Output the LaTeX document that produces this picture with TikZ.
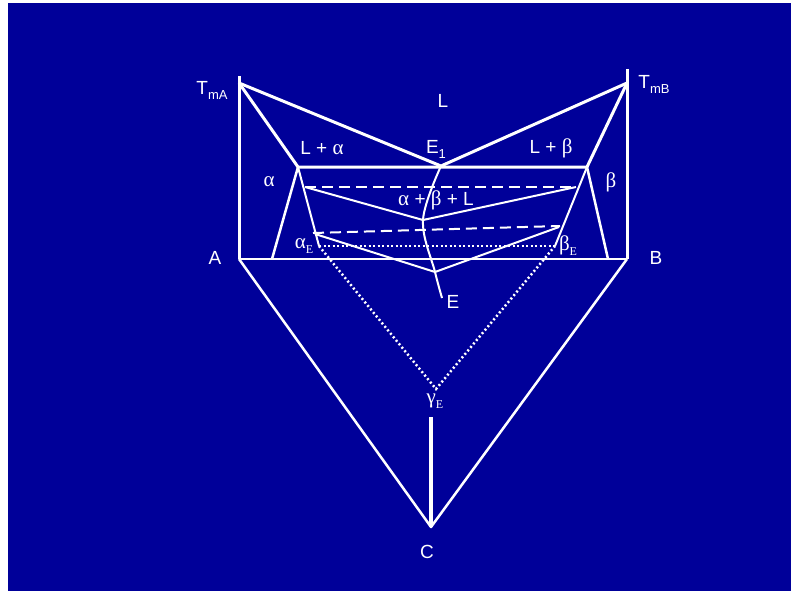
\documentclass[tikz,border=0pt]{standalone}
\usepackage{fontspec}
\setmainfont{Liberation Sans}
\newfontfamily\grkfont{Liberation Serif}
\newcommand{\mygk}[1]{{\grkfont\fontsize{21}{22}\selectfont #1}}
\newcommand{\mysbE}{\raisebox{-5pt}{\grkfont\fontsize{12}{12}\selectfont E}}
\newcommand{\mysub}[1]{\raisebox{-5pt}{\fontsize{13}{13}\selectfont #1}}
\begin{document}
\begin{tikzpicture}[x=1pt,y=-1pt]
\tikzset{
 thk/.style={white, line width=3pt, line join=round},
 mid/.style={white, line width=2.5pt, line join=round},
 thn/.style={white, line width=2pt, line join=round},
 dsh/.style={white, line width=2pt, dash pattern=on 11pt off 6pt},
 dtt/.style={white, line width=2.5pt, dash pattern=on 2pt off 2.5pt},
 lbl/.style={text=white, inner sep=0pt, font=\fontsize{19}{22}\selectfont},
}
\definecolor{bg}{RGB}{0,0,153}
\useasboundingbox (0,0) rectangle (791,591);
\fill[white] (0,0) rectangle (791,591);
\fill[bg] (8,3) rectangle (791,591);
% points
\coordinate (TopA) at (239,76);
\coordinate (TmA) at (239,83);
\coordinate (A) at (239,259);
\coordinate (TopB) at (627,69);
\coordinate (TmB) at (627,83);
\coordinate (B) at (627,259);
\coordinate (E1) at (441,166);
\coordinate (PL) at (298,167);
\coordinate (PR) at (587,167);
\coordinate (AL) at (272,259);
\coordinate (BR) at (608,259);
\coordinate (aE) at (319,246);
\coordinate (bE) at (555,246);
\coordinate (U1) at (305,187);
\coordinate (U2) at (576,187);
\coordinate (UV) at (423,220);
\coordinate (D1) at (313,233);
\coordinate (D2) at (560,226);
\coordinate (DL) at (315,234);
\coordinate (DR) at (559,227);
\coordinate (DV) at (435,272);
\coordinate (E) at (442,298);
\coordinate (gE) at (436,389);
\coordinate (C) at (431,527);
\coordinate (Ctop) at (431,417);
% frame
\draw[thk] (TopA) -- (A);
\draw[thk] (TopB) -- (B);
\draw[mid] (A) -- (B);
\draw[thk] (TmA) -- (E1) -- (TmB);
\draw[thk] (TmA) -- (PL) -- (PR) -- (TmB);
\draw[mid] (PL) -- (AL);
\draw[mid] (PR) -- (BR);
\draw[thn] (PL) -- (aE);
\draw[thn] (PR) -- (bE);
% tie lines
\draw[dsh] (U1) -- (U2);
\draw[thn] (U1) -- (UV) -- (U2);
\draw[dsh] (D1) -- (D2);
\draw[thn] (DL) -- (DV) -- (DR);
\draw[thn] plot[smooth, tension=0.6] coordinates {(E1) (UV) (DV) (E)};
% dotted
\draw[dtt] (aE) -- (bE);
\draw[dtt] (aE) -- (gE) -- (bE);
% bottom
\draw[mid] (A) -- (C) -- (B);
\draw[white, line width=4pt] (Ctop) -- (C);
% labels
\node[lbl] (lL) at (443,101) {L};
\node[lbl] (lLa) at (322,148) {L + \mygk{α}};
\node[lbl] (lE1) at (436,149) {E\mysub{1}};
\node[lbl] (lLb) at (551,148) {L + \mygk{β}};
\node[lbl] (la) at (269,182) {\mygk{α}};
\node[lbl] (lb) at (611,182) {\mygk{β}};
\node[lbl] (labL) at (436,200) {\mygk{α} + \mygk{β} + L};
\node[lbl] (laE) at (304,246) {\mygk{α}\mysbE};
\node[lbl] (lbE) at (568,246) {\mygk{β}\mysbE};
\node[lbl] (lA) at (215,258) {A};
\node[lbl] (lB) at (656,258) {B};
\node[lbl] (lE) at (453,302) {E};
\node[lbl] (lgE) at (435,401) {\mygk{γ}\mysbE};
\node[lbl] (lC) at (427,552) {C};
\node[lbl] (lTA) at (212,90) {T\mysub{mA}};
\node[lbl] (lTB) at (654,84) {T\mysub{mB}};
\end{tikzpicture}
\end{document}
